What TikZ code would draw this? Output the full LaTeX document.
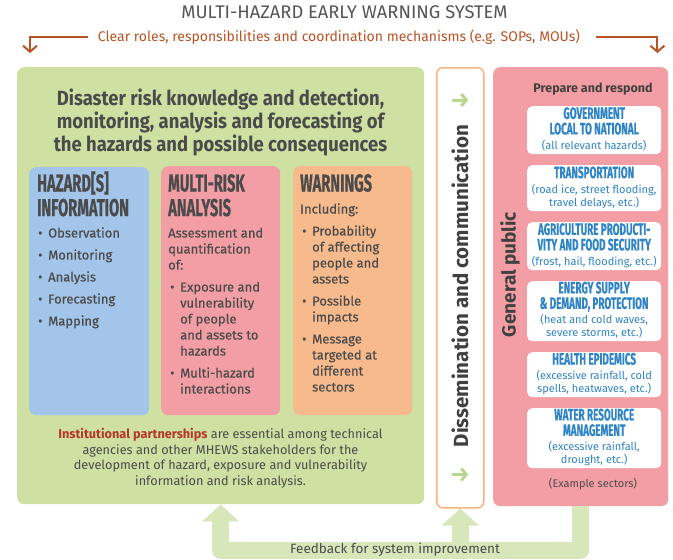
\documentclass[tikz,border=0pt]{standalone}
\usepackage{fontspec}
\setmainfont{Fira Sans}
\newfontfamily\condfont[FakeStretch=0.6, FakeBold=0.4]{Fira Sans}
\newfontfamily\semicond[FakeStretch=0.9]{Fira Sans}
\newfontfamily\bodyfam[FakeBold=0.5]{Fira Sans}
\usetikzlibrary{arrows.meta}

\definecolor{riskgreen}{HTML}{CFE0A3}
\definecolor{fbgreen}{HTML}{D7E7B9}
\definecolor{hazblue}{HTML}{A3C5E9}
\definecolor{riskpink}{HTML}{F29EA4}
\definecolor{warnorange}{HTML}{F7BA8D}
\definecolor{dissemline}{HTML}{F6B37F}
\definecolor{rolesbrown}{HTML}{B95325}
\definecolor{inkgray}{HTML}{4B4B4B}
\definecolor{titlegray}{HTML}{555555}
\definecolor{sectorblue}{HTML}{2F84C6}
\definecolor{partred}{HTML}{B5362B}
\definecolor{arrowgreen}{HTML}{B9D690}

\newcommand{\mhbul}{\makebox[12pt][l]{\hspace{2pt}\textbullet}}
\newcommand{\headfont}{\condfont\bfseries\fontsize{24.5}{24}\selectfont}
\newcommand{\bodyfont}{\bodyfam\fontsize{13}{16}\selectfont}
\newcommand{\sectorhead}[1]{{\condfont\bfseries\fontsize{16.5}{15}\selectfont #1}}

\begin{document}
\begin{tikzpicture}[x=1pt,y=-1pt,
		every node/.style={inner sep=0pt, text=inkgray},
		stage/.style={rectangle, rounded corners=7pt, anchor=north west},
		sector/.style={rectangle, rounded corners=5pt, fill=white, anchor=north west,
			minimum width=134pt, text=sectorblue, font=\fontsize{11}{12.5}\selectfont},
		headtext/.style={anchor=base west, font=\headfont},
		bodytext/.style={anchor=base west, font=\bodyfont},
		rolesarrow/.style={draw=rolesbrown, line width=2pt, -{Straight Barb[length=6pt,width=14pt]}},
		garrow/.style={draw=arrowgreen, line width=3pt, -{Straight Barb[length=5pt,width=12pt]}},
		fback/.style={draw=fbgreen, line width=17pt, line join=round, -{Triangle[width=36pt,length=17pt]}}]
	\useasboundingbox (0,0) rectangle (673,560);
	% title and roles
	\node[text=titlegray, font=\fontsize{18.3}{20}\selectfont] (title) at (344.5,12) {MULTI-HAZARD EARLY WARNING SYSTEM};
	\node[text=rolesbrown, font=\fontsize{14}{16}\selectfont] (roles) at (339,37) {Clear roles, responsibilities and coordination mechanisms (e.g. SOPs, MOUs)};
	% main boxes
	\node[stage, fill=riskgreen, minimum width=407pt, minimum height=437pt] (risk) at (17,67) {};
	\node[stage, fill=white, draw=dissemline, line width=1.5pt, rounded corners=6pt, minimum width=47pt, minimum height=440pt] (dissem) at (436,67) {};
	\node[stage, fill=riskpink, minimum width=175pt, minimum height=439pt] (public) at (493,67) {};
	\draw[rolesarrow] ([xshift=-10pt]roles.west) -| ([shift={(13pt,14pt)}]risk.north west);
	\draw[rolesarrow] ([xshift=16pt]roles.east) -| ([shift={(-11pt,14pt)}]public.north east);
	% knowledge and detection
	\node[anchor=base, font=\semicond\bfseries\fontsize{20.5}{22}\selectfont] (risktitle) at (220.5,105) {\begin{tabular}[t]{@{}c@{}}
		Disaster risk knowledge and detection,\\
		monitoring, analysis and forecasting of\\
		the hazards and possible consequences\end{tabular}};
	\node[stage, fill=hazblue, minimum width=120pt, minimum height=248pt] (hazinfo) at (29,167) {};
	\node[stage, fill=riskpink, minimum width=119pt, minimum height=249pt] (multirisk) at (161,166) {};
	\node[stage, fill=warnorange, minimum width=119pt, minimum height=249pt] (warnings) at (293,166) {};
	\node[headtext] (hazhead) at (37,191.5) {\begin{tabular}[t]{@{}l@{}}HAZARD[S]\\INFORMATION\end{tabular}};
	\node[headtext] (riskhead) at (168,191.5) {\begin{tabular}[t]{@{}l@{}}MULTI-RISK\\ANALYSIS\end{tabular}};
	\node[headtext] (warnhead) at (300,191.5) {\begin{tabular}[t]{@{}l@{}}WARNINGS\end{tabular}};
	\node[bodytext] (hazbody) at (36,237.5) {\begin{tabular}[t]{@{}l@{}l@{}}
		\mhbul & Observation\\[6pt]
		\mhbul & Monitoring\\[6pt]
		\mhbul & Analysis\\[6pt]
		\mhbul & Forecasting\\[6pt]
		\mhbul & Mapping\end{tabular}};
	\node[bodytext] (riskbody) at (168,237.5) {\begin{tabular}[t]{@{}l@{}l@{}}
		\multicolumn{2}{@{}l@{}}{Assessment and}\\
		\multicolumn{2}{@{}l@{}}{quantification}\\
		\multicolumn{2}{@{}l@{}}{of:}\\[6pt]
		\mhbul & Exposure and\\
		& vulnerability\\
		& of people\\
		& and assets to\\
		& hazards\\[6pt]
		\mhbul & Multi-hazard\\
		& interactions\end{tabular}};
	\node[bodytext] (warnbody) at (300,213.5) {\begin{tabular}[t]{@{}l@{}l@{}}
		\multicolumn{2}{@{}l@{}}{Including:}\\[6pt]
		\mhbul & Probability\\
		& of affecting\\
		& people and\\
		& assets\\[6pt]
		\mhbul & Possible\\
		& impacts\\[6pt]
		\mhbul & Message\\
		& targeted at\\
		& different\\
		& sectors\end{tabular}};
	\node[anchor=base, font=\fontsize{12.7}{15.7}\selectfont] (partner) at (220.5,438.5) {\begin{tabular}[t]{@{}c@{}}
		\textcolor{partred}{\bfseries Institutional partnerships} are essential among technical\\
		agencies and other MHEWS stakeholders for the\\
		development of hazard, exposure and vulnerability\\
		information and risk analysis.\end{tabular}};
	% dissemination
	\node[rotate=90, font=\bfseries\fontsize{20.5}{22}\selectfont, text=black!75] (dissemtext) at (460,286) {Dissemination and communication};
	\draw[garrow] ([shift={(-8pt,-33pt)}]dissem.north) -- ++(16,0);
	\draw[garrow] ([shift={(-8pt,34pt)}]dissem.south) -- ++(16,0);
	% general public and sectors
	\node[rotate=90, font=\bfseries\fontsize{19}{21}\selectfont, text=black!75] (publictext) at (510,274.5) {General public};
	\node[font=\bfseries\fontsize{12.5}{14}\selectfont, text=black!75] (prepare) at (593,89) {Prepare and respond};
	\node[sector, minimum height=48pt] (gov) at (527,106) {\begin{tabular}{@{}c@{}}
		\sectorhead{GOVERNMENT}\\ \sectorhead{LOCAL TO NATIONAL}\\[2pt] (all relevant hazards)\end{tabular}};
	\node[sector, minimum height=46pt] (transport) at (527,165) {\begin{tabular}{@{}c@{}}
		\sectorhead{TRANSPORTATION}\\[2pt] (road ice, street flooding,\\ travel delays, etc.)\end{tabular}};
	\node[sector, minimum height=48pt] (agri) at (527,222) {\begin{tabular}{@{}c@{}}
		\sectorhead{AGRICULTURE PRODUCTI-}\\ \sectorhead{VITY AND FOOD SECURITY}\\[2pt] (frost, hail, flooding, etc.)\end{tabular}};
	\node[sector, minimum height=60pt] (energy) at (527,281) {\begin{tabular}{@{}c@{}}
		\sectorhead{ENERGY SUPPLY}\\ \sectorhead{\& DEMAND, PROTECTION}\\[2pt] (heat and cold waves,\\ severe storms, etc.)\end{tabular}};
	\node[sector, minimum height=45pt] (health) at (527,352) {\begin{tabular}{@{}c@{}}
		\sectorhead{HEALTH EPIDEMICS}\\[2pt] (excessive rainfall, cold\\ spells, heatwaves, etc.)\end{tabular}};
	\node[sector, minimum height=60pt] (water) at (527,408) {\begin{tabular}{@{}c@{}}
		\sectorhead{WATER RESOURCE}\\ \sectorhead{MANAGEMENT}\\[2pt] (excessive rainfall,\\ drought, etc.)\end{tabular}};
	\node[font=\fontsize{11}{13}\selectfont] (examples) at (593,484) {(Example sectors)};
	% feedback loop
	\coordinate (fbturn) at ([yshift=-44pt]public.south);
	\draw[fback] (public.south) -- (fbturn) -| (risk.south);
	\draw[fback] (fbturn -| dissem.south) -- (dissem.south);
	\node[font=\fontsize{13.5}{16}\selectfont] (feedback) at (395,550) {Feedback for system improvement};
\end{tikzpicture}
\end{document}
